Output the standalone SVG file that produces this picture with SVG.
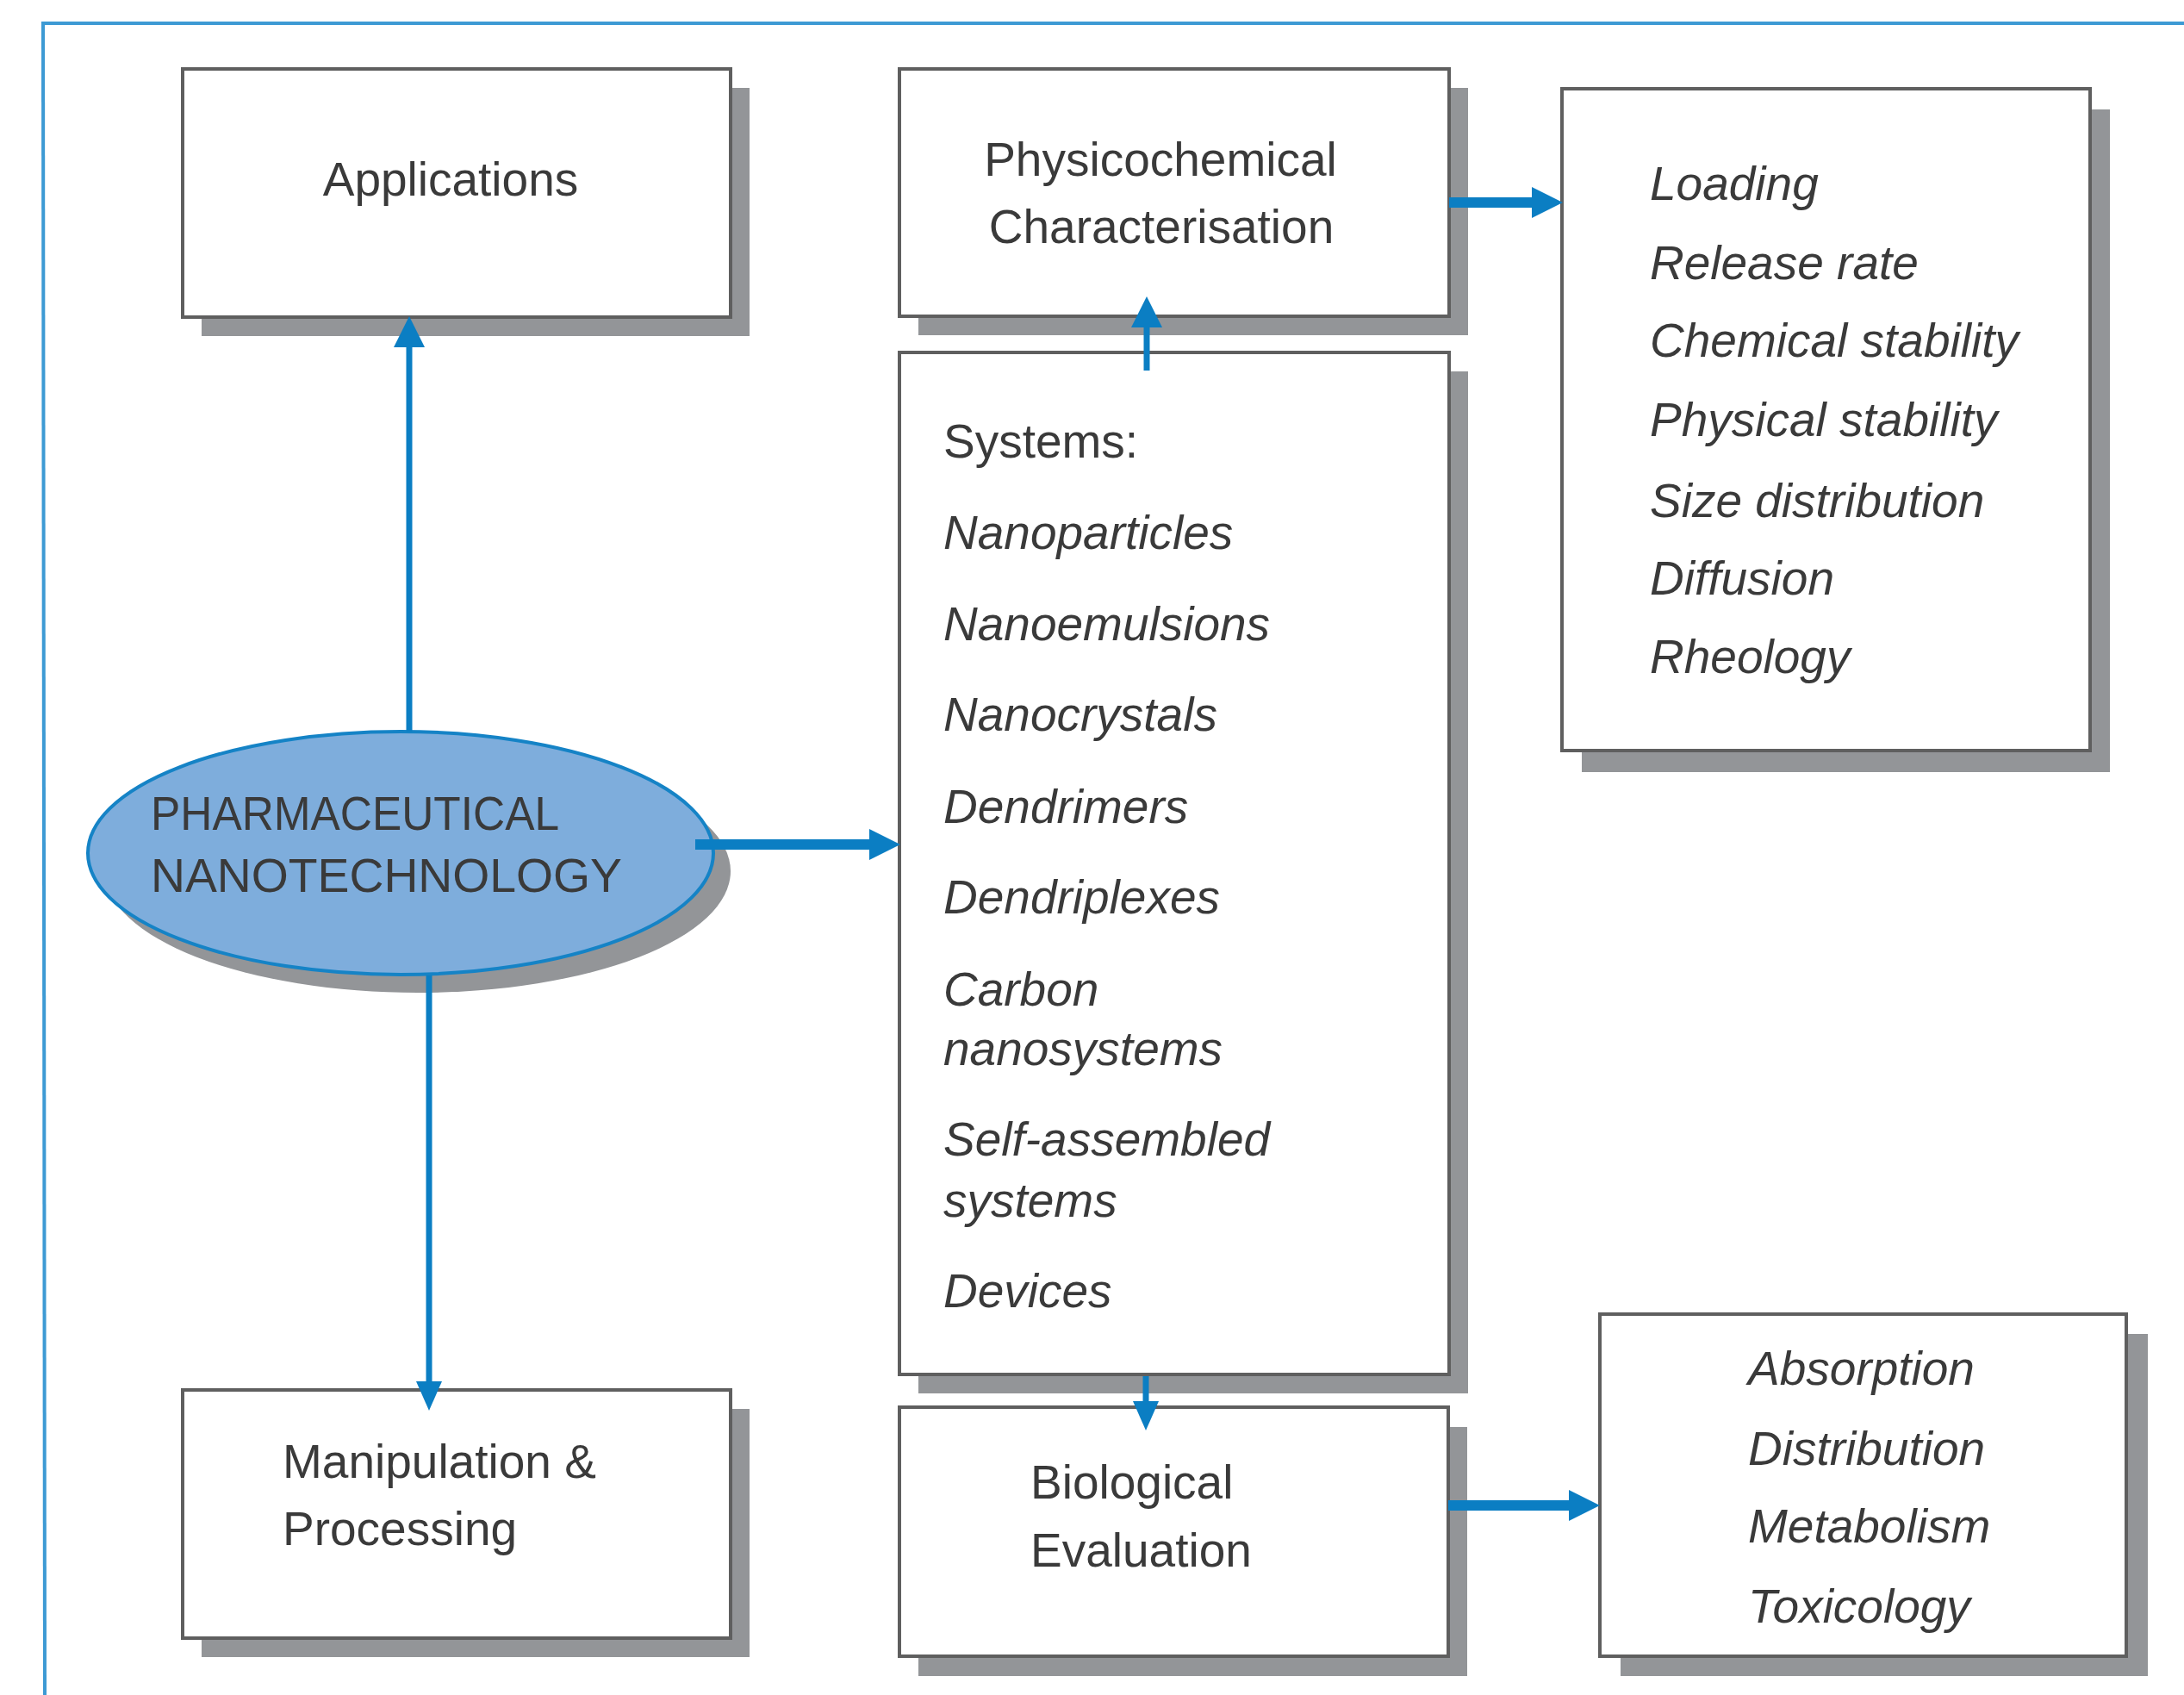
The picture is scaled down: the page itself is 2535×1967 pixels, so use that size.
<svg xmlns="http://www.w3.org/2000/svg" width="2535" height="1967" viewBox="0 0 2535 1967">
<style>
.box{fill:#ffffff;stroke:#5f5f5f;stroke-width:4}
.shadow{fill:#939598}
.t{font-family:"Liberation Sans",Arial,sans-serif;font-size:55px;fill:#3a3a3a}
.i{font-style:italic}
.c{text-anchor:middle}
.frame{stroke:#3d9ad4;stroke-width:4;fill:none}
.h{stroke:#0b7ec3;stroke-width:12;fill:none}
.v{stroke:#0b7ec3;stroke-width:7;fill:none}
</style>
<defs>
<marker id="ah" markerUnits="userSpaceOnUse" viewBox="0 -20 40 40" refX="0" refY="0" markerWidth="40" markerHeight="40" orient="auto" overflow="visible">
<path d="M0,-18 L36,0 L0,18 Z" fill="#0b7ec3"/>
</marker>
<marker id="ahs" markerUnits="userSpaceOnUse" viewBox="0 -20 40 40" refX="0" refY="0" markerWidth="40" markerHeight="40" orient="auto" overflow="visible">
<path d="M0,-15 L34,0 L0,15 Z" fill="#0b7ec3"/>
</marker>
</defs>
<rect width="2535" height="1967" fill="#ffffff"/>
<g id="frame">
<line class="frame" x1="48" y1="27" x2="2535" y2="27"/>
<line class="frame" x1="50" y1="25" x2="52" y2="1967"/>
</g>
<g id="applications">
<rect class="shadow" x="234" y="102" width="636" height="288"/>
<rect class="box" x="212" y="80" width="636" height="288"/>
<text class="t c" x="523" y="227">Applications</text>
</g>
<g id="physicochemical">
<rect class="shadow" x="1066" y="102" width="638" height="287"/>
<rect class="box" x="1044" y="80" width="638" height="287"/>
<text class="t c" x="1347" y="204">Physicochemical</text>
<text class="t c" x="1348" y="282">Characterisation</text>
</g>
<g id="properties">
<rect class="shadow" x="1836" y="127" width="613" height="769"/>
<rect class="box" x="1813" y="103" width="613" height="768"/>
<text class="t i" x="1915" y="232">Loading</text>
<text class="t i" x="1915" y="324">Release rate</text>
<text class="t i" x="1915" y="414">Chemical stability</text>
<text class="t i" x="1915" y="506">Physical stability</text>
<text class="t i" x="1915" y="600">Size distribution</text>
<text class="t i" x="1915" y="690">Diffusion</text>
<text class="t i" x="1915" y="781">Rheology</text>
</g>
<g id="systems">
<rect class="shadow" x="1066" y="431" width="638" height="1186"/>
<rect class="box" x="1044" y="409" width="638" height="1186"/>
<text class="t" x="1095" y="531">Systems:</text>
<text class="t i" x="1095" y="637">Nanoparticles</text>
<text class="t i" x="1095" y="743">Nanoemulsions</text>
<text class="t i" x="1095" y="848">Nanocrystals</text>
<text class="t i" x="1095" y="955">Dendrimers</text>
<text class="t i" x="1095" y="1060">Dendriplexes</text>
<text class="t i" x="1095" y="1167">Carbon</text>
<text class="t i" x="1095" y="1236">nanosystems</text>
<text class="t i" x="1095" y="1341">Self-assembled</text>
<text class="t i" x="1095" y="1412">systems</text>
<text class="t i" x="1095" y="1517">Devices</text>
</g>
<g id="pharmaceutical-nanotechnology">
<ellipse cx="485" cy="1011" rx="363" ry="141" fill="#939598"/>
<ellipse cx="465" cy="990" rx="363" ry="141" fill="#7eaddc" stroke="#1583c6" stroke-width="4"/>
<text class="t" x="175" y="963" font-size="53" textLength="474" lengthAdjust="spacingAndGlyphs">PHARMACEUTICAL</text>
<text class="t" x="175" y="1035" font-size="53" textLength="547" lengthAdjust="spacingAndGlyphs">NANOTECHNOLOGY</text>
</g>
<g id="manipulation">
<rect class="shadow" x="234" y="1635" width="636" height="288"/>
<rect class="box" x="212" y="1613" width="636" height="288"/>
<text class="t" x="328" y="1715">Manipulation &amp;</text>
<text class="t" x="328" y="1793">Processing</text>
</g>
<g id="biological">
<rect class="shadow" x="1066" y="1656" width="637" height="289"/>
<rect class="box" x="1044" y="1633" width="637" height="289"/>
<text class="t" x="1196" y="1739">Biological</text>
<text class="t" x="1196" y="1818">Evaluation</text>
</g>
<g id="adme">
<rect class="shadow" x="1881" y="1548" width="612" height="397"/>
<rect class="box" x="1857" y="1525" width="611" height="397"/>
<text class="t i" x="2029" y="1607">Absorption</text>
<text class="t i" x="2029" y="1700">Distribution</text>
<text class="t i" x="2029" y="1790">Metabolism</text>
<text class="t i" x="2029" y="1883">Toxicology</text>
</g>
<g id="connectors">
<line class="v" x1="475" y1="849" x2="475" y2="403" marker-end="url(#ah)"/>
<line class="h" x1="807" y1="980" x2="1009" y2="980" marker-end="url(#ah)"/>
<line class="v" x1="498" y1="1132" x2="498" y2="1603" marker-end="url(#ahs)"/>
<line class="v" x1="1331" y1="430" x2="1331" y2="380" marker-end="url(#ah)"/>
<line class="h" x1="1682" y1="235" x2="1778" y2="235" marker-end="url(#ah)"/>
<line class="v" x1="1330" y1="1597" x2="1330" y2="1626" marker-end="url(#ahs)"/>
<line class="h" x1="1681" y1="1747" x2="1821" y2="1747" marker-end="url(#ah)"/>
</g>
</svg>
